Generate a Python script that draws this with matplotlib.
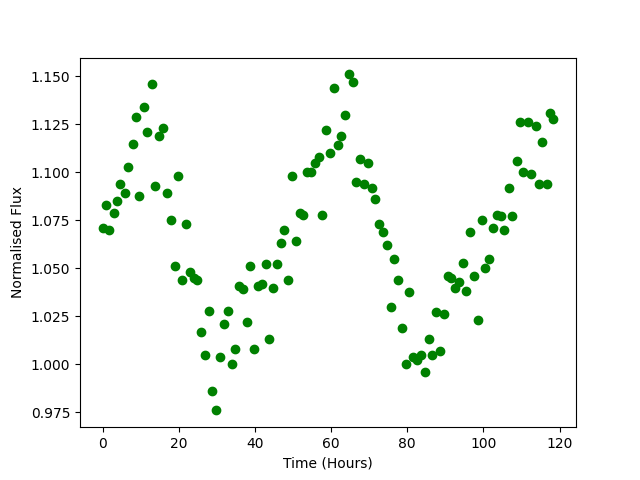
import matplotlib
matplotlib.use("Agg")
import matplotlib.pyplot as plt

# time in hours
time_hours = [
    0.0, 0.8, 1.8, 2.9, 3.9, 4.7, 5.8, 6.8, 7.9, 8.9,
    9.7, 10.8, 11.8, 12.9, 13.9, 14.7, 15.8, 16.8, 17.9, 18.9,
    19.7, 20.8, 21.8, 22.9, 23.9, 24.7, 25.8, 26.8, 27.9, 28.7,
    29.7, 30.8, 31.8, 32.9, 33.9, 34.7, 35.8, 36.8, 37.9, 38.7,
    39.7, 40.8, 41.8, 42.9, 43.7, 44.7, 45.8, 46.8, 47.6, 48.7,
    49.7, 50.8, 51.8, 52.6, 53.7, 54.7, 55.8, 56.8, 57.6, 58.7,
    59.7, 60.8, 61.8, 62.6, 63.7, 64.7, 65.8, 66.6, 67.6, 68.7,
    69.7, 70.8, 71.6, 72.6, 73.7, 74.7, 75.8, 76.6, 77.6, 78.7,
    79.7, 80.5, 81.6, 82.6, 83.7, 84.7, 85.8, 86.6, 87.6, 88.7,
    89.7, 90.8, 91.6, 92.6, 93.7, 94.7, 95.5, 96.6, 97.6, 98.7,
    99.7, 100.5, 101.6, 102.6, 103.7, 104.7, 105.5, 106.6, 107.6, 108.7,
    109.5, 110.5, 111.6, 112.6, 113.7, 114.5, 115.5, 116.6, 117.6, 118.4,
]

flux = [
    1.071, 1.083, 1.070, 1.079, 1.085, 1.094, 1.089, 1.103, 1.115, 1.129,
    1.0875, 1.134, 1.121, 1.146, 1.093, 1.119, 1.123, 1.089, 1.075, 1.051,
    1.098, 1.044, 1.073, 1.048, 1.045, 1.044, 1.017, 1.005, 1.028, 0.986,
    0.976, 1.004, 1.021, 1.028, 1.000, 1.008, 1.041, 1.039, 1.022, 1.051,
    1.008, 1.041, 1.042, 1.052, 1.013, 1.040, 1.052, 1.063, 1.070, 1.044,
    1.098, 1.064, 1.079, 1.078, 1.100, 1.100, 1.105, 1.108, 1.078, 1.122,
    1.110, 1.144, 1.114, 1.119, 1.130, 1.151, 1.147, 1.095, 1.107, 1.094,
    1.105, 1.092, 1.086, 1.073, 1.069, 1.062, 1.030, 1.055, 1.044, 1.019,
    1.000, 1.0375, 1.004, 1.002, 1.005, 0.996, 1.013, 1.005, 1.027, 1.007,
    1.026, 1.046, 1.045, 1.040, 1.043, 1.053, 1.038, 1.069, 1.046, 1.023,
    1.075, 1.050, 1.055, 1.071, 1.078, 1.077, 1.070, 1.092, 1.077, 1.106,
    1.126, 1.100, 1.126, 1.099, 1.124, 1.094, 1.116, 1.094, 1.131, 1.128,
]

fig, ax = plt.subplots(figsize=(6.4, 4.8), dpi=100)
ax.plot(time_hours, flux, "o", color="green")
ax.set_xlabel("Time (Hours)")
ax.set_ylabel("Normalised Flux")

fig.savefig("out.png")
